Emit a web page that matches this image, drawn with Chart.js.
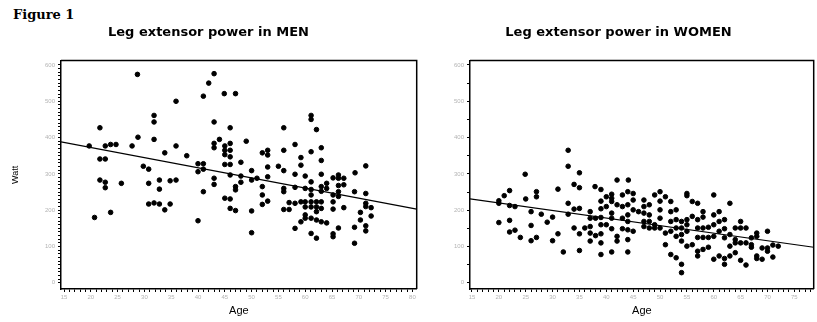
<!DOCTYPE html>
<html>
<head>
<meta charset="utf-8">
<script src="https://cdn.jsdelivr.net/npm/chart.js@4.4.1/dist/chart.umd.min.js"></script>
<style>
  body { margin: 0; background: #fff; width: 817px; height: 322px; overflow: hidden; position: relative; }
  #fig { position: absolute; left: 13px; top: 7px; font: bold 13px "DejaVu Serif", "Liberation Serif", serif; }
  .box { position: absolute; top: 0; height: 322px; }
</style>
</head>
<body>
<div id="fig">Figure 1</div>
<div class="box" style="left:0;width:420px"><canvas id="menChart"></canvas></div>
<div class="box" style="left:420px;width:397px"><canvas id="womenChart"></canvas></div>
<script>
// values
const ageTicks = [15, 20, 25, 30, 35, 40, 45, 50, 55, 60, 65, 70, 75, 80];
const wattTicks = [0, 100, 200, 300, 400, 500, 600];

const menAge = [28.7,43,42,41,44.9,47,35.9,31.8,31.8,43,21.7,46,56,61.1,61.1,62.1,
  28.8,31.8,44,49,58.1,19.7,22.7,23.7,24.7,27.7,35.9,43,43,45,45,45,
  46,46,46,46,45,56,61.1,63,53,52,53,33.8,37.9,59.2,63,21.7,22.7,48,40,41,59.2,71.3,
  29.8,30.8,40,41,50,55,56,53,53,58.1,60,63,69.3,66.2,66.2,65.2,67.2,
  46,48,51,50,48,43,43,21.7,22.7,22.7,25.7,30.8,32.8,32.8,34.8,35.9,
  47,47,52,56,56,58.1,60,61.1,61.1,61.1,63,63,64,64,66.2,66.2,67.2,69.2,71.3,
  41,52,65.2,66.2,53,52,45,46,30.8,31.8,32.8,34.8,33.8,46,47,50,56,57,
  57,58.1,59.2,60,61.1,62.1,62.1,62.1,63,63,61.1,60,
  65.2,65.2,67.2,71.3,71.3,72.3,70.3,72.3,70.3,71.3,71.3,
  69.2,66.2,65.2,65.2,69.2,61.1,62.1,58.1,59.2,60,60,61.1,62.1,63,64,50,40,20.7,23.7];
const menWatt = [574,576,550,514,521,521,500,461,443,443,427,427,427,461,450,422,
  401,395,395,390,381,377,377,381,381,377,377,384,372,377,365,353,
  384,365,347,326,326,365,361,372,365,358,352,358,350,345,337,341,341,332,328,328,324,322,
  321,313,306,313,309,321,309,319,292,299,294,299,303,297,288,289,288,
  297,294,288,283,277,288,271,283,277,262,274,274,283,258,281,283,
  265,256,265,260,251,263,260,278,257,242,265,252,274,260,268,251,270,251,246,
  251,242,242,238,225,216,233,231,217,220,217,217,201,205,199,198,202,202,
  221,219,223,223,223,223,209,196,205,223,209,209,
  223,203,207,219,210,207,194,184,173,157,143,
  153,151,135,127,109,136,123,150,168,178,187,178,173,168,165,138,171,180,194];

const womenAge = [32.9,32.9,35,24.9,34,35,42,44.1,37.9,39,31,22,21,27,27,25,20,20,22,23,
  26,27.9,29,30,20,22,22,23,24,26,26,27,30,31,32,32.9,32.9,34,35,34,
  35,36,35,37,37,37,37,37,38,38,39,39,39,39,39,39,39,40,40,40,
  41,41,41,41,41,41,41,42,42,42,43,43,43,43,44,44,44,44,44,44,44,45,45,45,45,46,
  47,47,47,47,47,48,48,48,48,49,49,49,50,50,50,50,50,51,51,51,
  52,52,52,52,52,53,53,53,53,53,54,54,54,54,54,54,55,55,55,55,55,55,56,56,56,
  57,57,57,57,57,57,58,58,58,58,58,59,59,59,60,60,60,60,60,61,61,61,61,
  62,62,62,62,62,63,63,63,63,64,64,64,64,65,65,65,65,66,66,66,67,67,67,
  68,68,68,68,69,69,70,70,70,71,71,72];
const womenWatt = [365,321,303,299,271,262,283,283,265,257,258,254,240,251,237,231,226,219,213,210,
  196,189,167,181,166,172,140,145,125,158,116,125,116,135,85,219,189,203,205,151,
  135,151,89,196,178,155,137,115,178,130,225,204,180,160,135,110,78,237,210,160,
  244,233,224,192,178,149,85,215,128,115,242,210,178,149,251,215,187,169,146,119,85,246,228,201,142,196,
  228,210,192,169,155,215,187,169,151,242,160,151,251,225,201,178,151,237,137,105,
  224,196,169,142,78,201,174,151,128,69,169,151,133,115,51,28,246,240,174,160,142,101,224,183,105,
  219,174,151,125,87,74,196,181,151,125,92,153,125,98,242,187,160,128,65,196,169,142,74,
  174,149,124,67,51,219,133,101,74,151,119,110,83,169,151,110,62,151,110,49,124,105,98,
  137,128,74,67,96,65,142,96,87,104,71,101];

// fitted regression lines (end points at the frame edges)
const menFitAge = [14.44, 80.8];
const menFitWatt = [388, 203];
const womenFitAge = [14.63, 78.6];
const womenFitWatt = [231, 98];

Chart.defaults.font.family = '"Liberation Sans", Arial, sans-serif';
Chart.defaults.color = '#000';

const frame = {
    id: 'frame',
    afterDatasetsDraw(chart) {
        const { ctx, chartArea: a } = chart;
        ctx.save();
        ctx.strokeStyle = '#000';
        ctx.lineWidth = 1.5;
        ctx.beginPath();
        ctx.moveTo(a.left, a.top);
        ctx.lineTo(a.right, a.top);
        ctx.lineTo(a.right, a.bottom);
        ctx.stroke();
        ctx.restore();
    }
};

function tickList(first, last, step, min, max) {
    const t = [];
    for (let v = first; v <= last + 1e-6; v += step) {
        const r = Math.round(v * 100) / 100;
        if (r >= min && r <= max) t.push({ value: r });
    }
    return t;
}

function points(xs, ys) {
    return xs.map((x, i) => ({ x: x, y: ys[i] }));
}

function makeChart(id, opts) {
    const tickFont = { size: 6 };
    new Chart(document.getElementById(id), {
        type: 'scatter',
        data: {
            datasets: [
                {
                    data: points(opts.age, opts.watt),
                    backgroundColor: '#000',
                    borderColor: '#000',
                    pointRadius: 2.3,
                    pointHoverRadius: 2.3
                },
                {
                    type: 'line',
                    data: points(opts.fitAge, opts.fitWatt),
                    showLine: true,
                    borderColor: '#000',
                    borderWidth: 1.2,
                    pointRadius: 0
                }
            ]
        },
        options: {
            responsive: true,
            maintainAspectRatio: false,
            animation: false,
            events: [],
            layout: { padding: { right: opts.padRight } },
            plugins: {
                legend: { display: false },
                tooltip: { enabled: false },
                title: {
                    display: true,
                    text: opts.title,
                    font: { family: '"DejaVu Sans", sans-serif', size: 13, weight: 'bold' },
                    padding: { top: 25, bottom: 20 }
                }
            },
            scales: {
                x: {
                    type: 'linear',
                    min: opts.xMin,
                    max: opts.xMax,
                    afterFit: s => { s.height = 33; },
                    afterBuildTicks: s => { s.ticks = tickList(ageTicks[0], ageTicks[ageTicks.length - 1], 1, opts.xMin, opts.xMax); },
                    ticks: {
                        autoSkip: false,
                        maxRotation: 0,
                        padding: 2,
                        color: '#b4b4b4',
                        font: tickFont,
                        callback: v => ageTicks.includes(v) ? String(v) : ''
                    },
                    grid: { drawOnChartArea: false, drawTicks: true, tickLength: 3, tickColor: '#000' },
                    border: { color: '#000', width: 1.5 },
                    title: { display: true, text: 'Age', font: { size: 11 }, padding: { top: 0, bottom: 4 } }
                },
                y: {
                    min: -17,
                    max: 612,
                    afterFit: s => { s.width = opts.yWidth; },
                    afterBuildTicks: s => { s.ticks = tickList(wattTicks[0], wattTicks[wattTicks.length - 1], opts.yMinor, -17, 612); },
                    ticks: {
                        autoSkip: false,
                        padding: 3,
                        color: '#b4b4b4',
                        font: tickFont,
                        callback: v => wattTicks.includes(v) ? String(v) : ''
                    },
                    grid: { drawOnChartArea: false, drawTicks: true, tickLength: 3, tickColor: '#000' },
                    border: { color: '#000', width: 1.5 },
                    title: { display: opts.yTitle, text: 'Watt', font: { size: 9 }, padding: { top: 10, bottom: 0 } }
                }
            }
        },
        plugins: [frame]
    });
}

makeChart('menChart', {
    title: 'Leg extensor power in MEN',
    age: menAge, watt: menWatt, fitAge: menFitAge, fitWatt: menFitWatt,
    xMin: 14.44, xMax: 80.8, yWidth: 61, padRight: 3, yMinor: 10, yTitle: true
});

makeChart('womenChart', {
    title: 'Leg extensor power in WOMEN',
    age: womenAge, watt: womenWatt, fitAge: womenFitAge, fitWatt: womenFitWatt,
    xMin: 14.63, xMax: 78.6, yWidth: 50, padRight: 0, yMinor: 50, yTitle: false
});
</script>
</body>
</html>
